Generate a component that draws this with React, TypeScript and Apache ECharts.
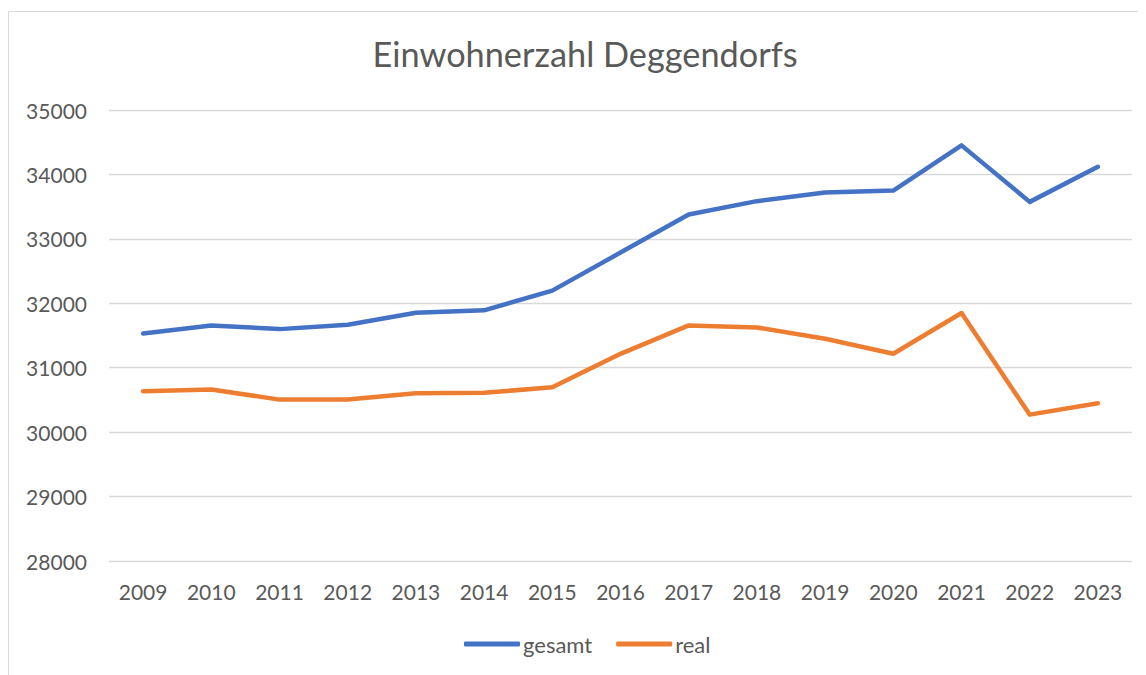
import React, { useEffect, useRef } from "react";
import * as echarts from "echarts";

const years = ["2009", "2010", "2011", "2012", "2013", "2014", "2015", "2016", "2017", "2018", "2019", "2020", "2021", "2022", "2023"];
const gesamt = [31532, 31656, 31599, 31667, 31854, 31890, 32196, 32787, 33378, 33585, 33720, 33750, 34451, 33574, 34119];
const real = [30635, 30661, 30505, 30505, 30604, 30610, 30697, 31216, 31656, 31625, 31450, 31216, 31849, 30272, 30448];

const FONT = "Lato";
const TEXT = "#595959";

export default function App() {
  const ref = useRef<HTMLDivElement>(null);
  useEffect(() => {
    if (!ref.current) return;
    const chart = echarts.init(ref.current, undefined, { renderer: "svg" });
    chart.setOption({
      animation: false,
      backgroundColor: "#ffffff",
      graphic: [
        {
          type: "rect",
          shape: { x: 0.5, y: 3.5, width: 1300, height: 800 },
          style: { fill: "none", stroke: "#d9d9d9", lineWidth: 1 },
          silent: true,
          z: -10,
        },
      ],
      title: {
        text: "Einwohnerzahl Deggendorfs",
        left: 572,
        textAlign: "center",
        top: 23,
        textStyle: { fontFamily: FONT, fontSize: 34.3, fontWeight: "normal", color: TEXT },
      },
      grid: { left: 101, right: 14, top: 102, bottom: 114, containLabel: false },
      legend: {
        left: 451,
        top: 620,
        icon: "roundRect",
        itemWidth: 56,
        itemHeight: 5,
        itemGap: 24,
        textStyle: { fontFamily: FONT, fontSize: 22, color: TEXT, padding: [0, 0, 0, -2] },
        data: ["gesamt", "real"],
      },
      xAxis: {
        type: "category",
        data: years,
        boundaryGap: true,
        axisLine: { show: false },
        axisTick: { show: false },
        axisLabel: { fontFamily: FONT, fontSize: 21, color: TEXT, margin: 20 },
      },
      yAxis: {
        type: "value",
        min: 28000,
        max: 35000,
        interval: 1000,
        axisLine: { show: false },
        axisTick: { show: false },
        axisLabel: {
          fontFamily: FONT,
          fontSize: 21,
          color: TEXT,
          margin: 22,
          formatter: (v: number) => String(v),
        },
        splitLine: { lineStyle: { color: "#d9d9d9", width: 1.3 } },
      },
      series: [
        {
          name: "gesamt",
          type: "line",
          data: gesamt,
          showSymbol: false,
          symbol: "none",
          lineStyle: { color: "#4472C4", width: 4.5, cap: "round", join: "round" },
          itemStyle: { color: "#4472C4" },
        },
        {
          name: "real",
          type: "line",
          data: real,
          showSymbol: false,
          symbol: "none",
          lineStyle: { color: "#ED7D31", width: 4.5, cap: "round", join: "round" },
          itemStyle: { color: "#ED7D31" },
        },
      ],
    });
    return () => chart.dispose();
  }, []);
  return <div ref={ref} style={{ width: 1138, height: 667 }} />;
}
